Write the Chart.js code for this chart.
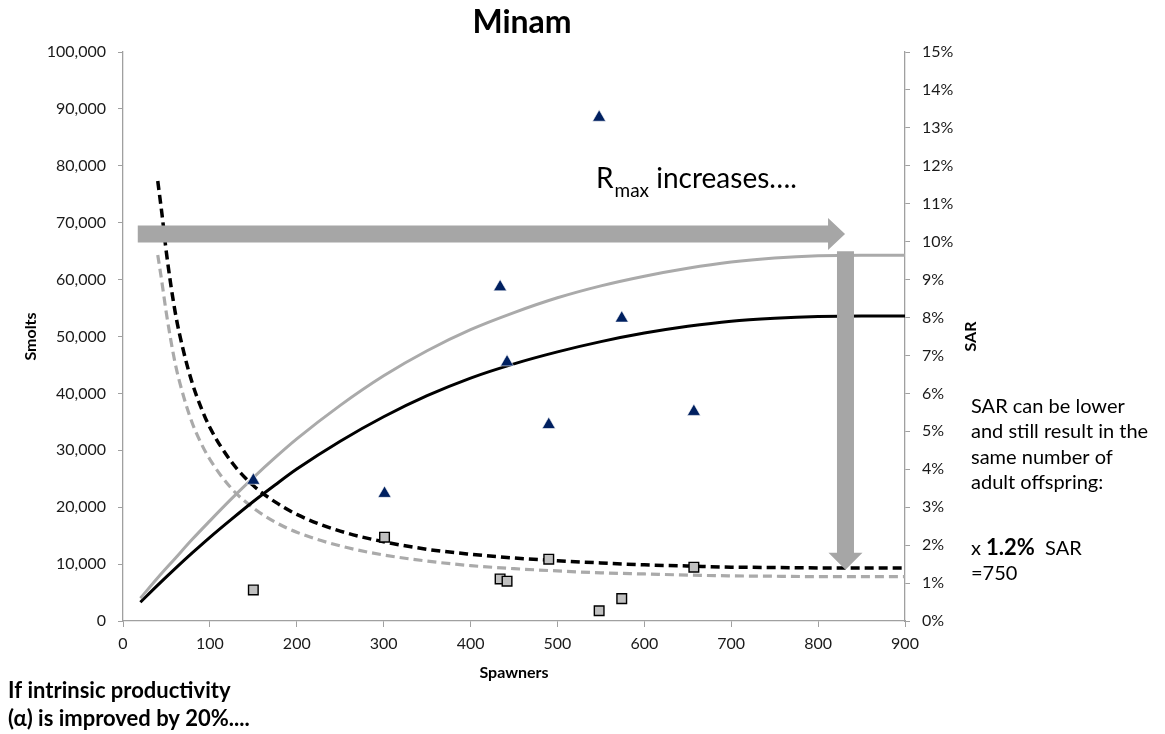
<!DOCTYPE html>
<html>
<head>
<meta charset="utf-8">
<title>Minam</title>
<script src="https://cdn.jsdelivr.net/npm/chart.js@4.4.1/dist/chart.umd.min.js"></script>
<style>
  html, body { margin: 0; padding: 0; background: #ffffff; }
  #wrap { width: 1165px; height: 734px; position: relative; }
</style>
</head>
<body>
<div id="wrap"><canvas id="chart" width="1165" height="734"></canvas></div>
<script>
// Observed brood years: spawners, smolts produced and smolt-to-adult return (%)
const spawners = [150, 301, 434, 442, 490, 548, 574, 657];
const smolts = [24700, 22400, 58700, 45500, 34500, 88500, 53200, 36800];
const sarObserved = [0.82, 2.21, 1.11, 1.05, 1.63, 0.27, 0.59, 1.42];

// Fitted smolt production curves (current and with productivity +20%)
const curveSpawners = [20, 40, 60, 80, 100, 125, 150, 175, 200, 250, 300, 350, 400, 450, 500, 550, 600, 650, 700, 750, 800, 850, 900];
const smoltsCurrent = [3300, 6300, 9200, 12000, 14700, 17900, 21000, 23900, 26700, 31600, 35900, 39600, 42700, 45200, 47300, 49100, 50600, 51800, 52700, 53200, 53500, 53600, 53600];
const smoltsImproved = [4000, 7600, 11000, 14400, 17600, 21500, 25200, 28700, 32000, 37900, 43100, 47500, 51200, 54200, 56800, 58900, 60600, 62000, 63100, 63800, 64200, 64300, 64300];

// SAR needed for the same number of adult offspring
const sarSpawners = [40, 45, 50, 60, 70, 80, 90, 100, 125, 150, 175, 200, 250, 300, 350, 400, 450, 500, 550, 600, 650, 700, 750, 800, 850, 900];
const sarCurrent = [11.6, 10.7, 9.7, 8.15, 7.08, 6.25, 5.62, 5.1, 4.19, 3.57, 3.14, 2.81, 2.37, 2.09, 1.89, 1.76, 1.66, 1.59, 1.53, 1.48, 1.45, 1.42, 1.41, 1.40, 1.40, 1.40];
const sarImproved = [9.65, 8.9, 8.1, 6.8, 5.9, 5.2, 4.68, 4.26, 3.49, 2.98, 2.61, 2.34, 1.98, 1.74, 1.58, 1.46, 1.38, 1.32, 1.27, 1.24, 1.21, 1.19, 1.18, 1.17, 1.17, 1.17];

// Axis ticks
const xTicks = [0, 100, 200, 300, 400, 500, 600, 700, 800, 900];
const smoltTicks = [0, 10000, 20000, 30000, 40000, 50000, 60000, 70000, 80000, 90000, 100000];
const sarTicks = [0, 1, 2, 3, 4, 5, 6, 7, 8, 9, 10, 11, 12, 13, 14, 15];

// Arrow annotations in data units: [spawners, smolts]
const rmaxArrow = { from: [17, 68000], to: [831, 68000] };
const sarArrow = { from: [831.5, 65000], to: [831.5, 9000] };

const pairs = (xs, ys) => xs.map((x, i) => ({ x: x, y: ys[i] }));

const AXIS_GREY = '#a0a0a0';
const ARROW_GREY = '#a6a6a6';
const FONT = 'Lato, "Open Sans", "DejaVu Sans", sans-serif';

function drawArrow(ctx, x1, y1, x2, y2, body, headW, headL) {
  const ang = Math.atan2(y2 - y1, x2 - x1);
  const len = Math.hypot(x2 - x1, y2 - y1);
  ctx.save();
  ctx.translate(x1, y1);
  ctx.rotate(ang);
  ctx.fillStyle = ARROW_GREY;
  ctx.beginPath();
  ctx.moveTo(0, -body / 2);
  ctx.lineTo(len - headL, -body / 2);
  ctx.lineTo(len - headL, -headW / 2);
  ctx.lineTo(len, 0);
  ctx.lineTo(len - headL, headW / 2);
  ctx.lineTo(len - headL, body / 2);
  ctx.lineTo(0, body / 2);
  ctx.closePath();
  ctx.fill();
  ctx.restore();
}

const annotations = {
  id: 'annotations',
  afterDatasetsDraw(chart) {
    const ctx = chart.ctx;
    const xs = chart.scales.x, ys = chart.scales.y;
    drawArrow(ctx,
      xs.getPixelForValue(rmaxArrow.from[0]), ys.getPixelForValue(rmaxArrow.from[1]),
      xs.getPixelForValue(rmaxArrow.to[0]), ys.getPixelForValue(rmaxArrow.to[1]),
      17, 32, 17);
    drawArrow(ctx,
      xs.getPixelForValue(sarArrow.from[0]), ys.getPixelForValue(sarArrow.from[1]),
      xs.getPixelForValue(sarArrow.to[0]), ys.getPixelForValue(sarArrow.to[1]),
      17, 34, 17);
  },
  afterDraw(chart) {
    const ctx = chart.ctx;
    const area = chart.chartArea;
    const midY = (area.top + area.bottom) / 2;
    ctx.save();
    ctx.fillStyle = '#000000';

    // title
    ctx.font = 'bold 32px ' + FONT;
    ctx.textAlign = 'center';
    ctx.textBaseline = 'middle';
    ctx.fillText('Minam', 522, 23);

    // axis titles
    ctx.font = 'bold 16px ' + FONT;
    ctx.fillText('Spawners', (area.left + area.right) / 2, 673);
    ctx.save();
    ctx.translate(31, midY);
    ctx.rotate(-Math.PI / 2);
    ctx.fillText('Smolts', 0, 0);
    ctx.restore();
    ctx.save();
    ctx.translate(971, midY);
    ctx.rotate(-Math.PI / 2);
    ctx.fillText('SAR', 0, 0);
    ctx.restore();

    // R max label
    ctx.textAlign = 'left';
    ctx.textBaseline = 'alphabetic';
    ctx.font = '28px ' + FONT;
    ctx.fillText('R', 596, 188);
    let x = 596 + ctx.measureText('R').width + 1;
    ctx.font = '19px ' + FONT;
    ctx.fillText('max', x, 197);
    x += ctx.measureText('max').width;
    ctx.font = '28px ' + FONT;
    ctx.fillText(' increases….', x, 188);

    // side note
    ctx.font = '20px ' + FONT;
    const note = ['SAR can be lower', 'and still result in the', 'same number of', 'adult offspring:'];
    note.forEach((t, i) => ctx.fillText(t, 971, 413 + i * 25.3));
    let nx = 971;
    ctx.fillText('x ', nx, 555);
    nx += ctx.measureText('x ').width;
    ctx.font = 'bold 22px ' + FONT;
    ctx.fillText('1.2%', nx, 555);
    nx += ctx.measureText('1.2%').width;
    ctx.font = '20px ' + FONT;
    ctx.fillText('  SAR', nx, 555);
    ctx.fillText('=750', 971, 580);

    // bottom note
    ctx.font = 'bold 22px ' + FONT;
    ctx.fillText('If intrinsic productivity', 8, 698);
    ctx.fillText('(\u03B1) is improved by 20%....', 8, 726);
    ctx.restore();
  }
};

const tickFont = { family: FONT, size: 16 };

new Chart(document.getElementById('chart'), {
  type: 'scatter',
  data: {
    datasets: [
      {
        label: 'Smolts (observed)',
        data: pairs(spawners, smolts),
        yAxisID: 'y',
        pointStyle: 'triangle',
        pointRadius: 7.6,
        backgroundColor: '#002060',
        borderColor: '#ffffff',
        borderWidth: 0.6,
        order: 0
      },
      {
        label: 'SAR (observed)',
        data: pairs(spawners, sarObserved),
        yAxisID: 'y2',
        pointStyle: 'rect',
        pointRadius: 6.8,
        backgroundColor: '#c0c0c0',
        borderColor: '#000000',
        borderWidth: 1.4,
        order: 1
      },
      {
        label: 'Smolts, productivity +20%',
        data: pairs(curveSpawners, smoltsImproved),
        yAxisID: 'y',
        showLine: true,
        pointRadius: 0,
        borderColor: '#aaaaaa',
        borderWidth: 3,
        cubicInterpolationMode: 'monotone',
        order: 2
      },
      {
        label: 'Smolts, current',
        data: pairs(curveSpawners, smoltsCurrent),
        yAxisID: 'y',
        showLine: true,
        pointRadius: 0,
        borderColor: '#000000',
        borderWidth: 3,
        cubicInterpolationMode: 'monotone',
        order: 3
      },
      {
        label: 'SAR, current',
        data: pairs(sarSpawners, sarCurrent),
        yAxisID: 'y2',
        showLine: true,
        pointRadius: 0,
        borderColor: '#000000',
        borderWidth: 3.5,
        borderDash: [9, 5],
        cubicInterpolationMode: 'monotone',
        order: 4
      },
      {
        label: 'SAR, productivity +20%',
        data: pairs(sarSpawners, sarImproved),
        yAxisID: 'y2',
        showLine: true,
        pointRadius: 0,
        borderColor: '#aaaaaa',
        borderWidth: 3.2,
        borderDash: [9, 5],
        cubicInterpolationMode: 'monotone',
        order: 5
      }
    ]
  },
  options: {
    responsive: false,
    animation: false,
    devicePixelRatio: 1,
    layout: { padding: { top: 52, left: 0, right: 0, bottom: 0 } },
    plugins: {
      legend: { display: false },
      tooltip: { enabled: false },
      title: { display: false }
    },
    scales: {
      x: {
        type: 'linear',
        min: 0, max: 900,
        afterBuildTicks: s => { s.ticks = xTicks.map(v => ({ value: v })); },
        ticks: { font: tickFont, color: '#1a1a1a', padding: 7, maxRotation: 0 },
        grid: { drawOnChartArea: false, drawTicks: true, tickLength: 6, color: AXIS_GREY },
        border: { display: true, color: AXIS_GREY, width: 1.3 },
        afterFit: s => { s.height = 113; }
      },
      y: {
        type: 'linear',
        position: 'left',
        min: 0, max: 100000,
        afterBuildTicks: s => { s.ticks = smoltTicks.map(v => ({ value: v })); },
        ticks: {
          font: tickFont, color: '#1a1a1a', padding: 12,
          callback: v => v.toLocaleString('en-US')
        },
        grid: { drawOnChartArea: false, drawTicks: true, tickLength: 5, color: AXIS_GREY },
        border: { display: true, color: AXIS_GREY, width: 1.3 },
        afterFit: s => { s.width = 123; }
      },
      y2: {
        type: 'linear',
        position: 'right',
        min: 0, max: 15,
        afterBuildTicks: s => { s.ticks = sarTicks.map(v => ({ value: v })); },
        ticks: {
          font: tickFont, color: '#1a1a1a', padding: 12,
          callback: v => v + '%'
        },
        grid: { drawOnChartArea: false, drawTicks: true, tickLength: 5, color: AXIS_GREY },
        border: { display: true, color: AXIS_GREY, width: 1.3 },
        afterFit: s => { s.width = 260; }
      }
    }
  },
  plugins: [annotations]
});
</script>
</body>
</html>
